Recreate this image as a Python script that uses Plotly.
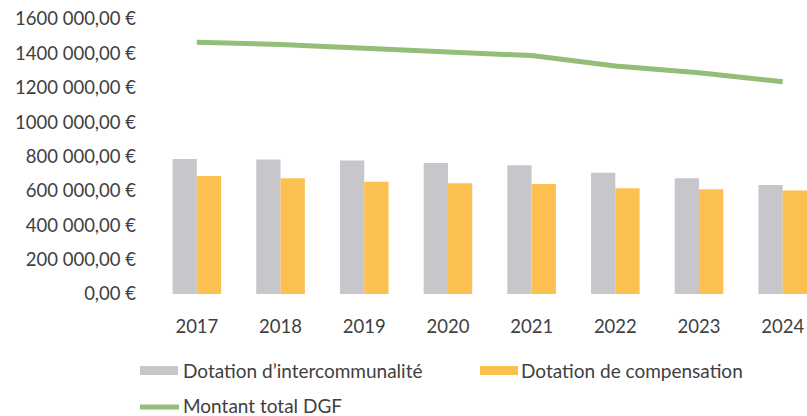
import plotly.graph_objects as go

# Dotation globale de fonctionnement (DGF), 2017-2024
years = ["2017", "2018", "2019", "2020", "2021", "2022", "2023", "2024"]
dotation_intercommunalite = [785000, 783000, 777000, 762000, 749000, 705000, 673000, 634000]
dotation_compensation = [686000, 673000, 653000, 644000, 640000, 615000, 609000, 602000]
montant_total_dgf = [1465000, 1452000, 1430000, 1408000, 1387000, 1326000, 1287000, 1235000]
y_ticks = [0, 200000, 400000, 600000, 800000, 1000000, 1200000, 1400000, 1600000]
y_tick_labels = ["0,00 €", "200 000,00 €", "400 000,00 €", "600 000,00 €", "800 000,00 €",
                 "1000 000,00 €", "1200 000,00 €", "1400 000,00 €", "1600 000,00 €"]

GRAY = "#C7C6CA"
ORANGE = "#FBC04F"
GREEN = "#93BE77"
TEXT = "#404040"
FONT = "Lato"

W, H = 807, 416
L, T, B = 155, 19, 122
plot_w, plot_h = W - L, H - T - B

fig = go.Figure()
fig.add_bar(x=years, y=dotation_intercommunalite, name="Dotation d’intercommunalité",
            marker_color=GRAY, marker_line_width=0)
fig.add_bar(x=years, y=dotation_compensation, name="Dotation de compensation",
            marker_color=ORANGE, marker_line_width=0)
fig.add_scatter(x=years, y=montant_total_dgf, name="Montant total DGF", mode="lines",
                line=dict(color=GREEN, width=5))


def px_x(px):
    return (px - L) / plot_w


def px_y(py):
    return (H - B - py) / plot_h


# hand-drawn legend below the axis
shapes = [
    dict(type="rect", xref="paper", yref="paper", x0=px_x(140), x1=px_x(178),
         y0=px_y(375), y1=px_y(366), fillcolor=GRAY, line_width=0),
    dict(type="rect", xref="paper", yref="paper", x0=px_x(480), x1=px_x(518),
         y0=px_y(375), y1=px_y(366), fillcolor=ORANGE, line_width=0),
    dict(type="line", xref="paper", yref="paper", x0=px_x(140), x1=px_x(179),
         y0=px_y(407), y1=px_y(407), line=dict(color=GREEN, width=5)),
]
annotations = [
    dict(text="Dotation d’intercommunalité", x=px_x(181), y=px_y(370)),
    dict(text="Dotation de compensation", x=px_x(519), y=px_y(370)),
    dict(text="Montant total DGF", x=px_x(181), y=px_y(405)),
]
for a in annotations:
    a.update(xref="paper", yref="paper", xanchor="left", yanchor="middle",
             showarrow=False, font=dict(family=FONT, size=19, color=TEXT))

fig.update_layout(
    width=W, height=H,
    margin=dict(l=L, r=0, t=T, b=B),
    paper_bgcolor="white", plot_bgcolor="white",
    barmode="group", bargap=0.42, bargroupgap=0,
    showlegend=False,
    shapes=shapes, annotations=annotations,
    font=dict(family=FONT, size=18, color=TEXT),
)
fig.update_xaxes(range=[-0.5, 7.29], showgrid=False, showline=False, zeroline=False,
                 ticks="", ticklabelstandoff=19, tickfont=dict(family=FONT, size=18.5, color=TEXT))
fig.update_yaxes(range=[0, 1600000], tickvals=y_ticks, ticktext=y_tick_labels,
                 showgrid=False, showline=False, zeroline=False, ticks="",
                 ticklabelstandoff=18, tickfont=dict(family=FONT, size=18.5, color=TEXT))

fig.write_html("out.html")
